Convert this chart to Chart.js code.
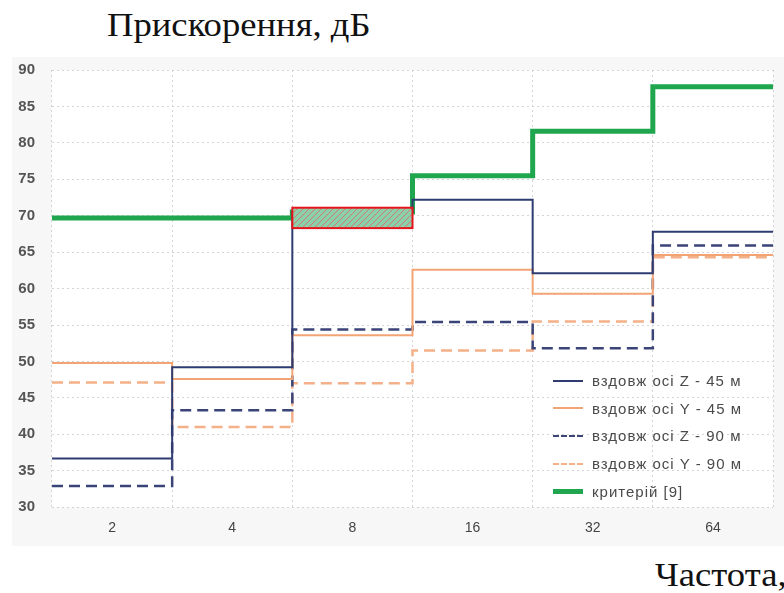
<!DOCTYPE html>
<html>
<head>
<meta charset="utf-8">
<script src="https://cdn.jsdelivr.net/npm/chart.js@4.4.1/dist/chart.umd.min.js"></script>
<style>
  body { margin: 0; background: #fff; width: 784px; height: 593px; overflow: hidden; position: relative; }
  .cap { position: absolute; font-family: "Liberation Serif", "Times New Roman", serif; font-size: 33px; line-height: 33px; color: #111; white-space: nowrap; transform: scaleX(1.11); transform-origin: left top; }
  #wrap { position: absolute; left: 12px; top: 57px; width: 772px; height: 489px; background: #f7f7f7; }
  #chart { position: absolute; left: 0; top: -13px; }
  #legend { position: absolute; left: 541px; top: 310px; font-family: "Liberation Sans", Arial, sans-serif; font-size: 15px; letter-spacing: 1px; color: #4a4a4a; }
  #legend div { height: 27.6px; display: flex; align-items: center; }
  #legend span.ln { display: inline-block; width: 30px; margin-right: 9px; }
</style>
</head>
<body>
<div class="cap" style="left:107px; top:9px;">Прискорення, дБ</div>
<div id="wrap"><canvas id="chart" width="772" height="506"></canvas><div id="legend"></div></div>
<div class="cap" style="left:655px; top:559px;">Частота, Гц</div>
<script>
const categories = ['2', '4', '8', '16', '32', '64'];
const zAxis45 = [36.7, 49.2, 70.5, 72.2, 62.1, 67.8];
const yAxis45 = [49.8, 47.6, 53.6, 62.6, 59.3, 64.6];
const zAxis90 = [32.9, 43.3, 54.4, 55.4, 51.8, 65.9];
const yAxis90 = [47.1, 41.0, 47.0, 51.5, 55.5, 64.3];
const criterion = [69.7, 69.7, 70.5, 75.5, 81.6, 87.7];
const exceedBox = [null, null, [68.3, 71.1], null, null, null];
const yTicks = [30, 35, 40, 45, 50, 55, 60, 65, 70, 75, 80, 85, 90];

// step points: one per category start, plus the closing edge
function steps(values) {
  const pts = values.map((v, i) => ({ x: i, y: v }));
  pts.push({ x: values.length, y: values[values.length - 1] });
  return pts;
}

function hatch(g0) {
  const c = document.createElement('canvas');
  c.width = 6; c.height = 6;
  const g = c.getContext('2d');
  g.fillStyle = '#8ccfab';
  g.fillRect(0, 0, 6, 6);
  g.strokeStyle = 'rgba(230,90,90,0.7)';
  g.lineWidth = 1;
  g.beginPath();
  g.moveTo(0, 6); g.lineTo(6, 0);
  g.moveTo(-1, 1); g.lineTo(1, -1);
  g.moveTo(5, 7); g.lineTo(7, 5);
  g.stroke();
  return g0.createPattern(c, 'repeat');
}

const ctx = document.getElementById('chart').getContext('2d');

const lineSets = [
  { label: 'вздовж осі Z - 45 м', data: steps(zAxis45), borderColor: '#2f3c72', borderWidth: 2, borderDash: [] },
  { label: 'вздовж осі Y - 45 м', data: steps(yAxis45), borderColor: '#f2a474', borderWidth: 2, borderDash: [] },
  { label: 'вздовж осі Z - 90 м', data: steps(zAxis90), borderColor: '#3b4478', borderWidth: 2.5, borderDash: [11, 6] },
  { label: 'вздовж осі Y - 90 м', data: steps(yAxis90), borderColor: '#f4b088', borderWidth: 2.5, borderDash: [11, 6] },
  { label: 'критерій [9]', data: steps(criterion), borderColor: '#1fa64e', borderWidth: 5, borderDash: [] },
].map(d => Object.assign(d, {
  type: 'line', xAxisID: 'xs', stepped: 'before', pointRadius: 0, fill: false, tension: 0,
}));

const chartBg = {
  id: 'chartBg',
  beforeDraw(chart) {
    const a = chart.chartArea;
    chart.ctx.save();
    chart.ctx.fillStyle = '#ffffff';
    chart.ctx.fillRect(a.left, a.top, a.right - a.left, a.bottom - a.top);
    chart.ctx.restore();
  }
};

// red box with hatching over the category where the criterion is exceeded
const exceedPlugin = {
  id: 'exceed',
  afterDatasetsDraw(chart) {
    const xs = chart.scales.xs, y = chart.scales.y, c = chart.ctx;
    exceedBox.forEach((r, i) => {
      if (!r) return;
      const l = xs.getPixelForValue(i), rr = xs.getPixelForValue(i + 1);
      const t = y.getPixelForValue(r[1]), b = y.getPixelForValue(r[0]);
      c.save();
      c.fillStyle = hatch(c);
      c.fillRect(l, t, rr - l, b - t);
      c.strokeStyle = '#e8141c';
      c.lineWidth = 2;
      c.strokeRect(l, t, rr - l, b - t);
      c.restore();
    });
  }
};

const chart = new Chart(ctx, {
  type: 'line',
  data: { labels: categories, datasets: lineSets },
  options: {
    responsive: false,
    animation: false,
    layout: { padding: { top: 0, right: 11, left: 0, bottom: 0 } },
    plugins: { legend: { display: false }, tooltip: { enabled: false } },
    scales: {
      x: {
        type: 'category', offset: true,
        grid: { offset: true, color: '#d4d4d4', drawTicks: false },
        border: { display: false, dash: [2, 3] },
        ticks: { color: '#444', font: { family: 'Liberation Sans', size: 14 }, padding: 13 },
      },
      xs: { type: 'linear', min: 0, max: categories.length, display: false },
      y: {
        min: 30, max: 90,
        afterBuildTicks: axis => { axis.ticks = yTicks.map(v => ({ value: v })); },
        afterFit: axis => { axis.width = 40; },
        grid: { color: '#d4d4d4', drawTicks: false },
        border: { display: false, dash: [2, 3] },
        ticks: { color: '#555', font: { family: 'Liberation Sans', size: 15, weight: 'bold' }, padding: 17 },
      },
    },
  },
  plugins: [chartBg, exceedPlugin],
});

const legend = document.getElementById('legend');
lineSets.forEach(d => {
  const row = document.createElement('div');
  const ln = document.createElement('span');
  ln.className = 'ln';
  const style = d.borderDash.length ? 'dashed' : 'solid';
  ln.style.borderTop = Math.max(2, d.borderWidth) + 'px ' + style + ' ' + d.borderColor;
  row.appendChild(ln);
  row.appendChild(document.createTextNode(d.label));
  legend.appendChild(row);
});
</script>
</body>
</html>
